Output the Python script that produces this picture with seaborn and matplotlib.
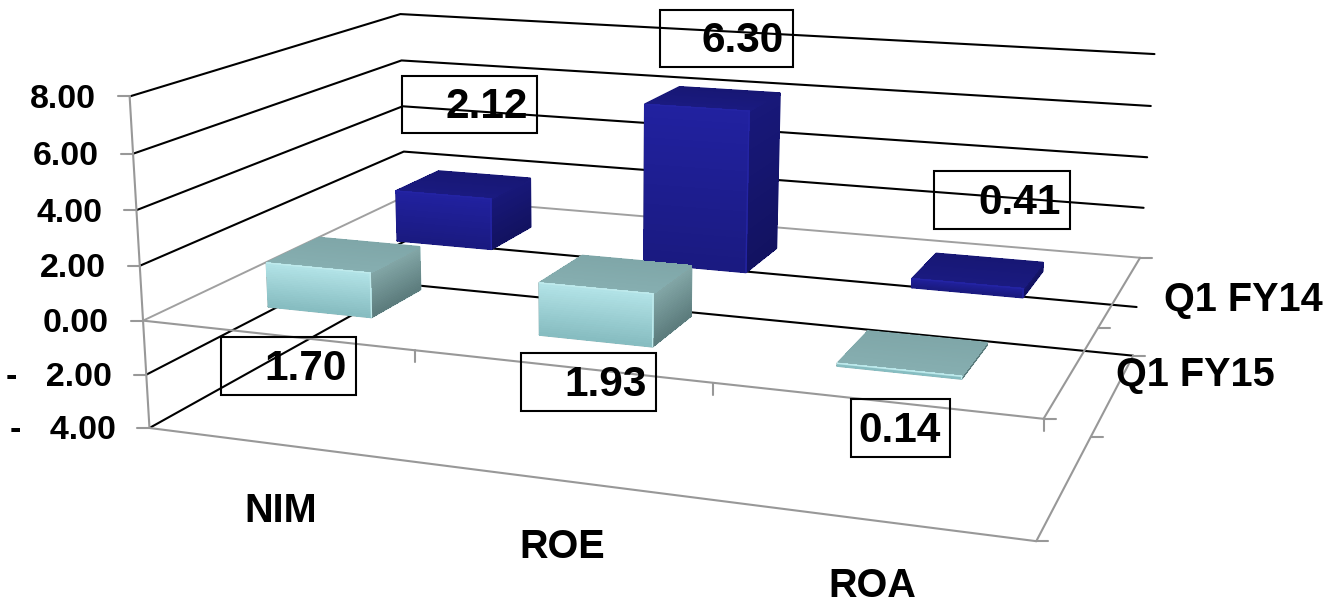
import numpy as np
import pandas as pd
import matplotlib.pyplot as plt
import seaborn as sns
from matplotlib.collections import PolyCollection
from matplotlib.colors import to_rgb
from matplotlib.patches import Rectangle

categories = ['NIM', 'ROE', 'ROA']
series = ['Q1 FY15', 'Q1 FY14']
q1_fy15 = [1.70, 1.93, 0.14]
q1_fy14 = [2.12, 6.30, 0.41]
value_ticks = [8, 6, 4, 2, 0, -2, -4]

# camera: where the corners of the 3d box land on the picture
box_world = np.array([(0, 0, 8), (0, 0, 0), (0, 0, -4), (0, 2, 8), (0, 2, 0),
                      (3, 2, 8), (3, 2, 0), (3, 2, -4), (3, 0, 0), (3, 0, -4),
                      (1, 0, 0), (2, 0, 0)], dtype=float)
box_pixels = np.array([(130, 96), (143, 321), (150, 429), (400, 14), (405, 196),
                       (1155, 55), (1140, 258), (1133, 355), (1043, 418), (1037, 542),
                       (414, 350), (713, 382)], dtype=float)

rows = []
rhs = []
for (x, y, z), (u, v) in zip(box_world, box_pixels):
    rows.append([x, y, z, 1, 0, 0, 0, 0, -u * x, -u * y, -u * z])
    rows.append([0, 0, 0, 0, x, y, z, 1, -v * x, -v * y, -v * z])
    rhs += [u, v]
cam = np.linalg.lstsq(np.array(rows), np.array(rhs), rcond=None)[0]
cam = np.append(cam, 1).reshape(3, 4)


def project(x, y, z):
    u, v, w = cam @ np.array([x, y, z, 1.0])
    return u / w, v / w


def mix(a, b, t):
    a, b = np.array(to_rgb(a)), np.array(to_rgb(b))
    return tuple(a + (b - a) * t)


def face(ax, p0, p1, p2, p3, c0, c1, n=24):
    # p0-p1 is the edge with colour c0, p3-p2 the edge with colour c1
    p0, p1, p2, p3 = [np.array(p, dtype=float) for p in (p0, p1, p2, p3)]
    polys, cols = [], []
    for i in range(n):
        t0, t1 = i / n, (i + 1) / n
        corners = [p0 + (p3 - p0) * t0, p1 + (p2 - p1) * t0,
                   p1 + (p2 - p1) * t1, p0 + (p3 - p0) * t1]
        polys.append([project(*c) for c in corners])
        cols.append(mix(c0, c1, (t0 + t1) / 2))
    ax.add_collection(PolyCollection(polys, facecolors=cols, edgecolors=cols,
                                     linewidths=0.5, antialiaseds=False, zorder=3))


def bar(ax, cat, row, val, pal):
    x0, x1 = cat + 0.307, cat + 0.697
    y0, y1 = row + 0.30, row + 0.68
    # the bevel of the original eats a little of the height
    top = max(val - 0.08, val * 0.6)
    # soft rim first so the faces keep their rounded look
    outline = [project(x0, y0, 0), project(x1, y0, 0), project(x1, y1, 0), project(x1, y1, top),
               project(x0, y1, top), project(x0, y0, top)]
    ax.plot(*zip(*(outline + outline[:1])), color=pal['rim'], lw=1.6, solid_joinstyle='round', zorder=2.9)
    face(ax, (x1, y0, top), (x1, y1, top), (x1, y1, 0), (x1, y0, 0), pal['side0'], pal['side1'])
    face(ax, (x0, y1, top), (x1, y1, top), (x1, y0, top), (x0, y0, top), pal['top0'], pal['top1'])
    face(ax, (x0, y0, top), (x1, y0, top), (x1, y0, 0), (x0, y0, 0), pal['front0'], pal['front1'])
    ax.plot(*zip(project(x0, y0, top), project(x1, y0, top), project(x1, y0, 0)),
            color=pal['shine'], lw=1.0, solid_joinstyle='round', zorder=4)


teal = dict(front0='#b4e4e8', front1='#86bcc0', side0='#84a8a8', side1='#5c7c7d',
            top0='#7fa6a8', top1='#86aeb0', rim='#86aeb0', shine='#bfeaec')
blue = dict(front0='#2121a0', front1='#1a1a80', side0='#18187a', side1='#121260',
            top0='#171774', top1='#1a1a80', rim='#191978', shine='#2424a4')

sns.set_theme(style='white')
plt.rcParams['font.family'] = ['Liberation Sans', 'DejaVu Sans']

fig, ax = plt.subplots(figsize=(13.26, 6.02), dpi=100)
fig.subplots_adjust(left=0, right=1, bottom=0, top=1)
ax.set_xlim(0, 1326)
ax.set_ylim(602, 0)
ax.axis('off')

# grid on the left and back walls
grid_rows = []
for level in value_ticks:
    for x, y in [(0, 0), (0, 2), (3, 2)]:
        u, v = project(x, y, level)
        grid_rows.append({'line': str(level), 'px': u, 'py': v,
                          'kind': 'floor' if level == 0 else 'grid'})
grid = pd.DataFrame(grid_rows)
sns.lineplot(data=grid[grid['kind'] == 'grid'], x='px', y='py', units='line', estimator=None,
             sort=False, color='black', lw=1.5, ax=ax, zorder=1)
sns.lineplot(data=grid[grid['kind'] == 'floor'], x='px', y='py', units='line', estimator=None,
             sort=False, color='#a0a0a0', lw=1.4, ax=ax, zorder=1)

# gray box edges
axis_color = '#989898'
edges = [((0, 0, 8), (0, 0, -4)), ((0, 0, 0), (3, 0, 0)), ((0, 0, -4), (3, 0, -4)),
         ((3, 0, 0), (3, 2, 0)), ((3, 0, -4), (3, 2, -4))]
for a, b in edges:
    ax.plot(*zip(project(*a), project(*b)), color=axis_color, lw=1.5, zorder=1.5)

# ticks
for level in value_ticks:
    u, v = project(0, 0, level)
    ax.plot([u - 12, u], [v, v], color=axis_color, lw=1.5, zorder=1.5)
    text = f'{level:.2f}' if level >= 0 else f'-   {abs(level):.2f}'
    ax.text(u - 34, v + 3, text, ha='right', va='center', fontsize=24.5, fontweight='bold', color='black', zorder=6)
for level in (0, -4):
    for y in (0, 1, 2):
        u, v = project(3, y, level)
        ax.plot([u, u + 12], [v, v], color=axis_color, lw=1.5, zorder=1.5)
for x in (1, 2, 3):
    u, v = project(x, 0, 0)
    ax.plot([u, u], [v, v + 12], color=axis_color, lw=1.5, zorder=1.5)

# bars, back row first
for i, val in enumerate(q1_fy14):
    bar(ax, i, 1, val, blue)
for i, val in enumerate(q1_fy15):
    bar(ax, i, 0, val, teal)

# category and series names
for i, name in enumerate(categories):
    u, v = project(i + 0.5, 0, -4)
    ax.text(u + i, v + 66, name, ha='center', va='center', fontsize=28.5, fontweight='bold', color='black', zorder=6)
for j, name in enumerate(series):
    u, v = project(3, j + 0.5, 0)
    ax.text(u + 123, v + 4 + 5 * j, name, ha='center', va='center', fontsize=28.5, fontweight='bold', color='black', zorder=6)

# data labels were dragged by hand in the original, so they sit in their own boxes
label_boxes = {(0, 1): (402, 76, 135, 57), (1, 1): (660, 10, 133, 57), (2, 1): (934, 171, 136, 58),
               (0, 0): (221, 337, 135, 58), (1, 0): (521, 353, 135, 58), (2, 0): (851, 399, 99, 58)}
for (i, j), (bx, by, bw, bh) in label_boxes.items():
    val = (q1_fy15, q1_fy14)[j][i]
    ax.add_patch(Rectangle((bx, by), bw, bh, fill=False, edgecolor='black', lw=1.5, zorder=5))
    ax.text(bx + bw - 9, by + bh / 2 + 3, f'{val:.2f}', ha='right', va='center', fontsize=30.5,
            fontweight='bold', color='black', zorder=6)

ax.set_xlim(0, 1326)
ax.set_ylim(602, 0)
ax.set_xlabel('')
ax.set_ylabel('')
fig.savefig('out.png', dpi=100)
plt.close(fig)
